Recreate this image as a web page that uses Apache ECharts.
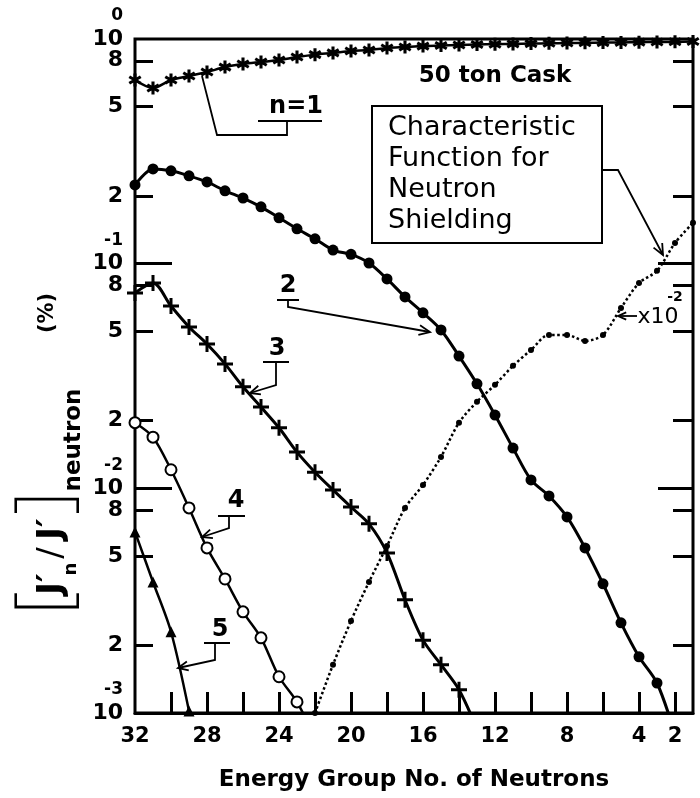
<!DOCTYPE html>
<html>
<head>
    <meta charset="utf-8">
    <title>Characteristic function for neutron shielding</title>
    <script src="https://cdn.jsdelivr.net/npm/echarts@6/dist/echarts.min.js"></script>
    <style>
        html, body { margin: 0; padding: 0; background: #fff; }
    </style>
</head>
<body>

<div id='chart' style="width: 700px; height: 798px;"></div>
<script type="text/javascript">
    // energy groups (x) and read-off values (fraction, log axis)
    var n1Groups = [32,31,30,29,28,27,26,25,24,23,22,21,20,19,18,17,16,15,14,13,12,11,10,9,8,7,6,5,4,3,2,1];
    var n1Values = [0.657,0.605,0.657,0.684,0.713,0.750,0.774,0.790,0.806,0.832,0.852,0.867,0.884,0.893,0.912,0.921,
                    0.930,0.935,0.940,0.945,0.948,0.951,0.954,0.957,0.960,0.962,0.964,0.966,0.968,0.970,0.972,0.975];

    var n2Groups = [32,31,30,29,28,27,26,25,24,23,22,21,20,19,18,17,16,15,14,13,12,11,10,9,8,7,6,5,4,3,2];
    var n2Values = [0.224,0.264,0.259,0.246,0.231,0.211,0.196,0.179,0.160,0.143,0.129,0.115,0.110,0.1007,0.0855,0.0711,
                    0.0604,0.0507,0.0388,0.0292,0.0212,0.0151,0.0109,0.00925,0.00746,0.00543,0.00376,0.00252,0.00178,0.00136,0.00081];

    var n3Groups = [32,31,30,29,28,27,26,25,24,23,22,21,20,19,18,17,16,15,14,13];
    var n3Values = [0.0741,0.082,0.0648,0.0523,0.0439,0.0358,0.0283,0.0230,0.0186,0.0145,0.0118,0.00984,0.00826,0.00695,
                    0.00516,0.00319,0.00211,0.00164,0.00127,0.00085];

    var n4Groups = [32,31,30,29,28,27,26,25,24,23,22];
    var n4Values = [0.0196,0.0169,0.0121,0.00818,0.00543,0.00395,0.00282,0.00216,0.00145,0.00112,0.00077];

    var n5Groups = [32,31,30,29];
    var n5Values = [0.0064,0.00383,0.00230,0.00102];

    // characteristic function (x10^-2)
    var chGroups = [22,21,20,19,18,17,16,15,14,13,12,11,10,9,8,7,6,5,4,3,2,1];
    var chValues = [0.001,0.00164,0.00257,0.00383,0.00554,0.00818,0.01035,0.0138,0.0196,0.0243,0.0289,0.0351,0.0413,
                    0.0482,0.0482,0.0453,0.0482,0.0635,0.0820,0.0929,0.1236,0.152];

    // axis ticks and labels
    var xTickValues = [30,28,26,24,22,20,18,16,14,12,10,8,6,4,2];
    var xLabelValues = [32,28,24,20,16,12,8,4,2];
    var yMinorValues = [0.8,0.5,0.2,0.08,0.05,0.02,0.008,0.005,0.002];
    var yMinorTexts = ['8','5','2','8','5','2','8','5','2'];
    var yDecadeValues = [1,0.1,0.01,0.001];
    var yDecadeTexts = ['10','10','10','10'];
    var yExponentTexts = ['0','-1','-2','-3'];
    var yDecadeTicks = [0.1,0.01];

    var FONT = 'DejaVu Sans';

    function pairs(gs, vs) {
        return gs.map(function (g, i) { return [g, vs[i]]; });
    }
    function lg(arr) {
        return arr.map(function (v) { return Math.log10(v); });
    }
    function lookup(values, texts) {
        var logs = lg(values);
        return function (v) {
            var best = 0;
            for (var i = 1; i < logs.length; i++) {
                if (Math.abs(logs[i] - v) < Math.abs(logs[best] - v)) best = i;
            }
            return texts[best];
        };
    }

    // marker shapes
    function rotRect(hw, hl, ang) {
        var c = Math.cos(ang), s = Math.sin(ang);
        var pts = [[-hw,-hl],[hw,-hl],[hw,hl],[-hw,hl]].map(function (p) {
            return (p[0]*c - p[1]*s).toFixed(3) + ',' + (p[0]*s + p[1]*c).toFixed(3);
        });
        return 'M' + pts[0] + 'L' + pts[1] + 'L' + pts[2] + 'L' + pts[3] + 'Z';
    }
    var asteriskPath = 'path://' + rotRect(1.4, 6, 0) + rotRect(1.4, 6, Math.PI/3) + rotRect(1.4, 6, -Math.PI/3);
    var plusPath = 'path://M-1.5,-8L1.5,-8L1.5,-1.5L8,-1.5L8,1.5L1.5,1.5L1.5,8L-1.5,8L-1.5,1.5L-8,1.5L-8,-1.5L-1.5,-1.5Z';

    // annotation helpers
    function arrowLine(pts, headLen) {
        var n = pts.length, x1 = pts[n-2][0], y1 = pts[n-2][1], x2 = pts[n-1][0], y2 = pts[n-1][1];
        var a = Math.atan2(y2 - y1, x2 - x1), w = 0.42;
        return [
            {type: 'polyline', shape: {points: pts}, style: {stroke: '#000', lineWidth: 1.8, fill: null}},
            {type: 'polyline', shape: {points: [
                [x2 - headLen*Math.cos(a - w), y2 - headLen*Math.sin(a - w)], [x2, y2],
                [x2 - headLen*Math.cos(a + w), y2 - headLen*Math.sin(a + w)]]},
             style: {stroke: '#000', lineWidth: 1.8, fill: null}}
        ];
    }
    function line(pts, w) {
        return {type: 'polyline', shape: {points: pts}, style: {stroke: '#000', lineWidth: w || 1.8, fill: null}};
    }
    function txt(x, y, s, font, rot) {
        return {type: 'text', x: x, y: y, rotation: rot || 0,
            style: {text: s, font: font, fill: '#000', align: 'center', verticalAlign: 'middle',
                    textAlign: 'center', textVerticalAlign: 'middle'}};
    }

    var R = Math.PI / 2;
    var graphics = [].concat(
        [txt(495, 76, '50 ton Cask', 'bold 23px ' + FONT)],
        [{type: 'rect', shape: {x: 372, y: 106, width: 230, height: 137},
          style: {stroke: '#000', lineWidth: 2, fill: '#fff'}}],
        [{type: 'text', x: 388, y: 112, style: {text: 'Characteristic\nFunction for\nNeutron\nShielding',
          font: '27px ' + FONT, fill: '#000', lineHeight: 31}}],
        arrowLine([[602,170],[618,170],[663,255]], 12),
        // n=1
        [txt(296, 107, 'n=1', 'bold 24px ' + FONT), line([[258,121],[322,121]], 2),
         line([[287,121],[287,135],[217,135],[202,76]])],
        // 2
        [txt(288, 286, '2', 'bold 24px ' + FONT), line([[277,300],[299,300]], 2)],
        arrowLine([[288,300],[288,307],[430,332]], 12),
        // 3
        [txt(277, 349, '3', 'bold 24px ' + FONT), line([[263,362],[289,362]], 2)],
        arrowLine([[276,362],[276,385],[250,393]], 11),
        // 4
        [txt(236, 501, '4', 'bold 24px ' + FONT), line([[218,516],[245,516]], 2)],
        arrowLine([[229,516],[229,528],[202,537]], 11),
        // 5
        [txt(220, 630, '5', 'bold 24px ' + FONT), line([[204,643],[230,643]], 2)],
        arrowLine([[215,643],[215,660],[178,668]], 11),
        // x10^-2
        arrowLine([[637,316],[618,316]], 9),
        [txt(658, 317, 'x10', '22px ' + FONT), txt(675, 297, '-2', 'bold 14px ' + FONT)],
        // y axis title (rotated)
        [txt(46, 603, '[', '200 74px Noto Sans', R),
         txt(52, 584, 'J\u2032', 'bold 34px ' + FONT, R),
         txt(71, 569, 'n', 'bold 18px ' + FONT, R),
         txt(52, 553, '/', '34px ' + FONT, R),
         txt(52, 529, 'J\u2032', 'bold 34px ' + FONT, R),
         txt(46, 503, ']', '200 74px Noto Sans', R),
         txt(74, 440, 'neutron', 'bold 23px ' + FONT, R),
         txt(48, 313, '(%)', 'bold 21px ' + FONT, R)]
    );

    function tickAxis(pos, values, len) {
        return {
            type: 'value', position: pos, min: -3, max: 0,
            axisLine: {show: false, onZero: false},
            splitLine: {show: false},
            axisTick: {show: true, inside: true, length: len, customValues: lg(values),
                       lineStyle: {color: '#000', width: 3}},
            axisLabel: {show: false}
        };
    }
    function labelAxis(values, texts, fontSize, vAlign, pad) {
        return {
            type: 'value', position: 'left', min: -3, max: 0,
            axisLine: {show: false, onZero: false},
            splitLine: {show: false},
            axisTick: {show: false},
            axisLabel: {show: true, customValues: lg(values), margin: 12, color: '#000',
                        fontSize: fontSize, fontWeight: 'bold', fontFamily: FONT, lineHeight: 18,
                        verticalAlign: vAlign, padding: pad, align: 'right',
                        showMinLabel: true, showMaxLabel: true, hideOverlap: false,
                        formatter: lookup(values, texts)}
        };
    }

    var myChart = echarts.init(document.getElementById('chart'));
    var option = {
        animation: false,
        backgroundColor: '#fff',
        textStyle: {fontFamily: FONT},
        grid: {left: 135, right: 7, top: 39, bottom: 85, show: true, borderColor: '#000', borderWidth: 3,
               backgroundColor: 'transparent'},
        xAxis: [{
            type: 'value', inverse: true, min: 1, max: 32,
            name: 'Energy Group No. of Neutrons', nameLocation: 'middle', nameGap: 56,
            nameTextStyle: {color: '#000', fontSize: 23, fontWeight: 'bold', fontFamily: FONT},
            axisLine: {show: true, onZero: false, lineStyle: {color: '#000', width: 3}},
            splitLine: {show: false},
            axisTick: {show: true, inside: true, length: 21, customValues: xTickValues,
                       lineStyle: {color: '#000', width: 3}},
            axisLabel: {show: true, customValues: xLabelValues, margin: 13, color: '#000',
                        fontSize: 21, fontWeight: 'bold', fontFamily: FONT}
        }],
        yAxis: [
            {type: 'log', logBase: 10, min: 0.001, max: 1, show: false},
            tickAxis('left', yMinorValues, 18),
            tickAxis('left', yDecadeTicks, 37),
            tickAxis('right', yMinorValues, 20),
            tickAxis('right', yDecadeTicks, 35),
            labelAxis(yMinorValues, yMinorTexts, 22, 'middle', 0),
            labelAxis(yDecadeValues, yDecadeTexts, 22, 'middle', 0),
            labelAxis(yDecadeValues, yExponentTexts, 17, 'bottom', [0, 0, 14, 0])
        ],
        graphic: graphics,
        series: [
            {name: 'n=1', type: 'line', yAxisIndex: 0, data: pairs(n1Groups, n1Values), smooth: 0.3,
             symbol: asteriskPath, symbolSize: 13, lineStyle: {color: '#000', width: 2.5},
             itemStyle: {color: '#000'}},
            {name: 'n=2', type: 'line', yAxisIndex: 0, data: pairs(n2Groups, n2Values), smooth: 0.3,
             symbol: 'circle', symbolSize: 11, lineStyle: {color: '#000', width: 3},
             itemStyle: {color: '#000'}},
            {name: 'n=3', type: 'line', yAxisIndex: 0, data: pairs(n3Groups, n3Values), smooth: 0.3,
             symbol: plusPath, symbolSize: 16, lineStyle: {color: '#000', width: 3},
             itemStyle: {color: '#000'}},
            {name: 'n=4', type: 'line', yAxisIndex: 0, data: pairs(n4Groups, n4Values), smooth: 0.3,
             symbol: 'circle', symbolSize: 11, lineStyle: {color: '#000', width: 2.5},
             itemStyle: {color: '#fff', borderColor: '#000', borderWidth: 2}},
            {name: 'n=5', type: 'line', yAxisIndex: 0, data: pairs(n5Groups, n5Values), smooth: 0.3,
             symbol: 'triangle', symbolSize: 11, lineStyle: {color: '#000', width: 2.5},
             itemStyle: {color: '#000'}},
            {name: 'characteristic', type: 'line', yAxisIndex: 0, data: pairs(chGroups, chValues), smooth: 0.3,
             symbol: 'circle', symbolSize: 6, lineStyle: {color: '#000', width: 2.5, type: 'dotted'},
             itemStyle: {color: '#000'}}
        ]
    };
    myChart.setOption(option);
</script>
</body>
</html>
